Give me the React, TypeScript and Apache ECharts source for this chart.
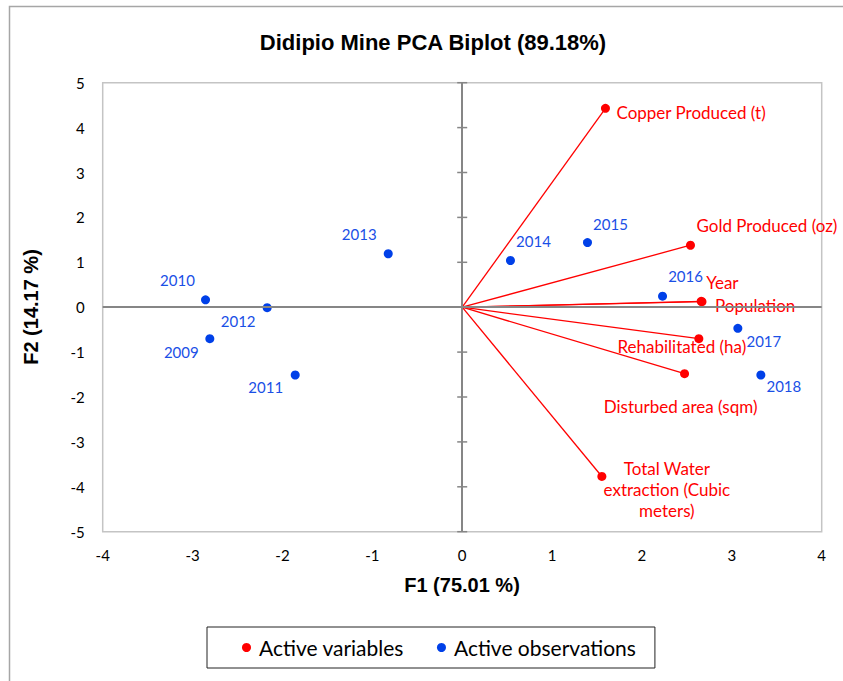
import React, { useEffect, useRef } from "react";
import * as echarts from "echarts";

// ---- Data ----
const varNames = [
  "Copper Produced (t)",
  "Gold Produced (oz)",
  "Year",
  "Population",
  "Rehabilitated (ha)",
  "Disturbed area (sqm)",
  "Total Water\nextraction (Cubic\nmeters)",
];
const varF1 = [1.594, 2.54, 2.659, 2.668, 2.633, 2.474, 1.554];
const varF2 = [4.43, 1.38, 0.13, 0.122, -0.7, -1.48, -3.77];

const obsNames = ["2009", "2010", "2011", "2012", "2013", "2014", "2015", "2016", "2017", "2018"];
const obsF1 = [-2.808, -2.856, -1.858, -2.17, -0.823, 0.537, 1.394, 2.229, 3.067, 3.323];
const obsF2 = [-0.7, 0.165, -1.51, -0.01, 1.19, 1.04, 1.44, 0.245, -0.47, -1.51];

const yTickValues = [-5, -4, -3, -2, -1, 0, 1, 2, 3, 4, 5];

// ---- Label placement (pixel offsets relative to each marker) ----
const varLabelOffsets: [number, number, string][] = [
  [11, 4, "left"],
  [6, -20, "left"],
  [5, -19, "left"],
  [13, 4, "left"],
  [-17, 8, "center"],
  [-4, 33, "center"],
  [65, 13, "center"],
];
const obsLabelOffsets: [number, number][] = [
  [-28.5, 13],
  [-28, -20],
  [-29.5, 12.5],
  [-29, 13],
  [-29, -20],
  [23, -20],
  [23, -19],
  [23, -20],
  [26, 13],
  [23, 11],
];

const RED = "#ff0000";
const BLUE = "#0040e8";
const BLUE_TEXT = "#1a4fe6";
const AXIS_GRAY = "#868686";

export default function App() {
  const ref = useRef<HTMLDivElement>(null);

  useEffect(() => {
    if (!ref.current) return;
    const chart = echarts.init(ref.current, undefined, { renderer: "svg" });

    const varData = varNames.map((n, i) => ({
      name: n,
      value: [varF1[i], varF2[i]],
      label: {
        offset: [varLabelOffsets[i][0], varLabelOffsets[i][1]],
        align: varLabelOffsets[i][2],
      },
    }));
    const obsData = obsNames.map((n, i) => ({
      name: n,
      value: [obsF1[i], obsF2[i]],
      label: { offset: obsLabelOffsets[i] },
    }));
    const vectorData = varNames.map((n, i) => ({
      coords: [
        [0, 0],
        [varF1[i], varF2[i]],
      ],
    }));

    const option: any = {
      animation: false,
      backgroundColor: "#ffffff",
      graphic: [
        {
          type: "rect",
          shape: { x: 9.5, y: 6.5, width: 900, height: 800 },
          style: { fill: "none", stroke: "#a6a6a6", lineWidth: 1.5 },
          silent: true,
          z: 0,
        },
        {
          type: "text",
          x: 433,
          y: 42,
          style: {
            text: "Didipio Mine PCA Biplot (89.18%)",
            font: "bold 22px 'Liberation Sans', Arial, sans-serif",
            fill: "#000",
            textAlign: "center",
            textVerticalAlign: "middle",
          },
        },
        {
          type: "text",
          x: 462,
          y: 585,
          style: {
            text: "F1 (75.01 %)",
            font: "bold 20px 'Liberation Sans', Arial, sans-serif",
            fill: "#000",
            textAlign: "center",
            textVerticalAlign: "middle",
          },
        },
        {
          type: "text",
          x: 31,
          y: 307,
          rotation: Math.PI / 2,
          style: {
            text: "F2 (14.17 %)",
            font: "bold 20px 'Liberation Sans', Arial, sans-serif",
            fill: "#000",
            textAlign: "center",
            textVerticalAlign: "middle",
          },
        },
      ],
      grid: {
        left: 102.7,
        top: 82.7,
        right: 21.3,
        bottom: 149.3,
        show: true,
        borderColor: "#c4c4c4",
        borderWidth: 1.5,
        backgroundColor: "transparent",
      },
      xAxis: {
        type: "value",
        min: -4,
        max: 4,
        interval: 1,
        axisLine: { show: false, onZero: false },
        axisTick: { show: false },
        splitLine: { show: false },
        axisLabel: {
          color: "#000",
          fontFamily: "Lato",
          fontSize: 15,
          margin: 16,
        },
      },
      yAxis: {
        type: "value",
        min: -5,
        max: 5,
        interval: 1,
        axisLine: { show: false, onZero: false },
        axisTick: { show: false },
        splitLine: { show: false },
        axisLabel: {
          color: "#000",
          fontFamily: "Lato",
          fontSize: 15,
          margin: 18,
        },
      },
      legend: {
        data: ["Active variables", "Active observations"],
        left: 207,
        top: 627,
        orient: "horizontal",
        icon: "circle",
        itemWidth: 9,
        itemHeight: 9,
        itemGap: 33,
        padding: [10, 19, 10, 35],
        borderColor: "#222",
        borderWidth: 1,
        borderRadius: 0,
        itemStyle: { opacity: 1 },
        textStyle: {
          color: "#000",
          fontFamily: "Lato",
          fontSize: 21,
          padding: [0, 0, 0, 3],
        },
      },
      series: [
        {
          type: "custom",
          silent: true,
          z: 1,
          data: yTickValues.map((v) => [0, v]),
          renderItem: (params: any, api: any) => {
            const p = api.coord([0, api.value(1)]);
            return {
              type: "line",
              shape: { x1: p[0] - 5, y1: p[1], x2: p[0] + 5, y2: p[1] },
              style: { stroke: AXIS_GRAY, lineWidth: 1.5 },
            };
          },
          markLine: {
            silent: true,
            symbol: "none",
            label: { show: false },
            lineStyle: { color: AXIS_GRAY, width: 2, type: "solid" },
            data: [{ xAxis: 0 }, { yAxis: 0 }],
          },
        },
        {
          type: "lines",
          coordinateSystem: "cartesian2d",
          silent: true,
          z: 2,
          lineStyle: { color: RED, width: 1.3, opacity: 1 },
          data: vectorData,
        },
        {
          name: "Active variables",
          type: "scatter",
          z: 3,
          symbol: "circle",
          symbolSize: 9,
          itemStyle: { color: RED, opacity: 1 },
          label: {
            show: true,
            position: "inside",
            formatter: "{b}",
            color: RED,
            fontFamily: "Lato",
            fontSize: 17,
            lineHeight: 21,
            verticalAlign: "middle",
          },
          data: varData,
        },
        {
          name: "Active observations",
          type: "scatter",
          z: 3,
          symbol: "circle",
          symbolSize: 9,
          itemStyle: { color: BLUE, opacity: 1 },
          label: {
            show: true,
            position: "inside",
            formatter: "{b}",
            color: BLUE_TEXT,
            fontFamily: "Lato",
            fontSize: 15,
            align: "center",
            verticalAlign: "middle",
          },
          data: obsData,
        },
      ],
    };

    chart.setOption(option);
    return () => chart.dispose();
  }, []);

  return (
    <div
      ref={ref}
      style={{ position: "fixed", left: 0, top: 0, width: 843, height: 681 }}
    />
  );
}
